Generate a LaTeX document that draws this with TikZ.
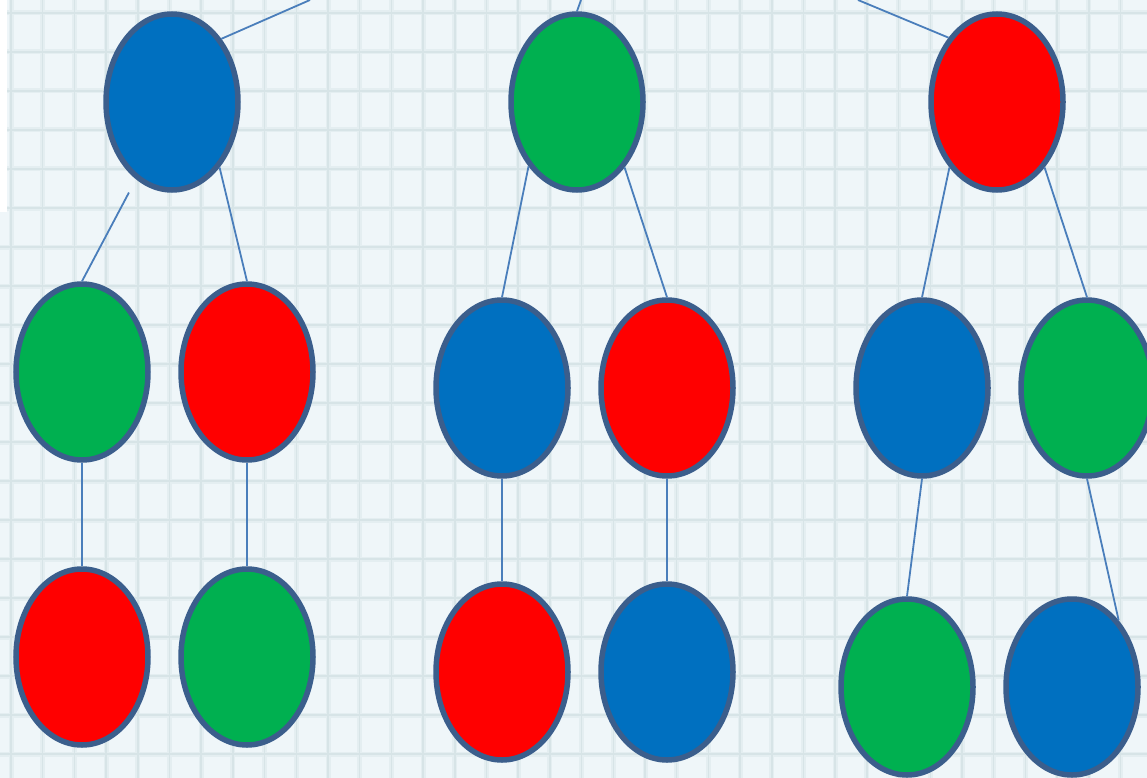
\documentclass[tikz,border=0pt]{standalone}
\usetikzlibrary{shapes.geometric}
\definecolor{bgc}{HTML}{EFF6F9}
\definecolor{gridA}{HTML}{E4EEF1}
\definecolor{gridB}{HTML}{D7E4E7}
\definecolor{bordc}{HTML}{3B5E8C}
\definecolor{connc}{HTML}{4A7EBB}
\definecolor{fblue}{HTML}{0070C0}
\definecolor{fgreen}{HTML}{00B050}
\definecolor{fred}{HTML}{FF0000}
\tikzset{
  oval/.style={ellipse, draw=bordc, line width=5.5pt, minimum width=132pt, minimum height=176pt, inner sep=0pt},
  ob/.style={oval, fill=fblue},
  og/.style={oval, fill=fgreen},
  orr/.style={oval, fill=fred},
  conn/.style={draw=connc, line width=1.8pt},
  gridwide/.style={draw=gridA, line width=5pt},
  gridthin/.style={draw=gridB, line width=1.5pt}
}
\begin{document}
\begin{tikzpicture}[x=1pt,y=-1pt]
\useasboundingbox (0,0) rectangle (1147,778);
\clip (0,0) rectangle (1147,778);
\fill[bgc] (0,0) rectangle (1147,778);
% grid
\foreach \i in {0,...,36} {
  \draw[gridwide] ({11+31.7*\i},0) -- ++(0,778);
}
\foreach \j in {0,...,20} {
  \draw[gridwide] (0,{13+39*\j}) -- ++(1147,0);
}
\foreach \i in {0,...,36} {
  \draw[gridthin] ({11+31.7*\i},0) -- ++(0,778);
}
\foreach \j in {0,...,20} {
  \draw[gridthin] (0,{13+39*\j}) -- ++(1147,0);
}
\fill[white] (0,0) rectangle (7,212);
% top edge coordinates
\coordinate (t1) at (310,0);
\coordinate (t2) at (581,0);
\coordinate (t3) at (858,0);
% top row
\node[ob]  (u1) at (172,102) {};
\node[og]  (u2) at (577,102) {};
\node[orr] (u3) at (997,102) {};
% middle row
\node[og]  (m1) at (82,372) {};
\node[orr] (m2) at (247,372) {};
\node[ob]  (m3) at (502,388) {};
\node[orr] (m4) at (667,388) {};
\node[ob]  (m5) at (922,388) {};
\node[og]  (m6) at (1087,388) {};
% bottom row
\node[orr] (b1) at (82,657) {};
\node[og]  (b2) at (247,657) {};
\node[orr] (b3) at (502,672) {};
\node[ob]  (b4) at (667,672) {};
\node[og]  (b5) at (907,687) {};
\node[ob]  (b6) at (1072,687) {};
% connectors
\draw[conn] (t1) -- (u1.52);
\draw[conn] (t2) -- (u2.north);
\draw[conn] (t3) -- (u3.127);
\draw[conn, shorten <=15pt] (u1.245) -- (m1.north);
\draw[conn] (u1.306) -- (m2.north);
\draw[conn] (u2.233) -- (m3.north);
\draw[conn] (u2.306) -- (m4.north);
\draw[conn] (u3.234) -- (m5.north);
\draw[conn] (u3.306) -- (m6.north);
\draw[conn] (m1.south) -- (b1.north);
\draw[conn] (m2.south) -- (b2.north);
\draw[conn] (m3.south) -- (b3.north);
\draw[conn] (m4.south) -- (b4.north);
\draw[conn] (m5.south) -- (b5.north);
\draw[conn] (m6.south) -- (b6.55);
\end{tikzpicture}
\end{document}
